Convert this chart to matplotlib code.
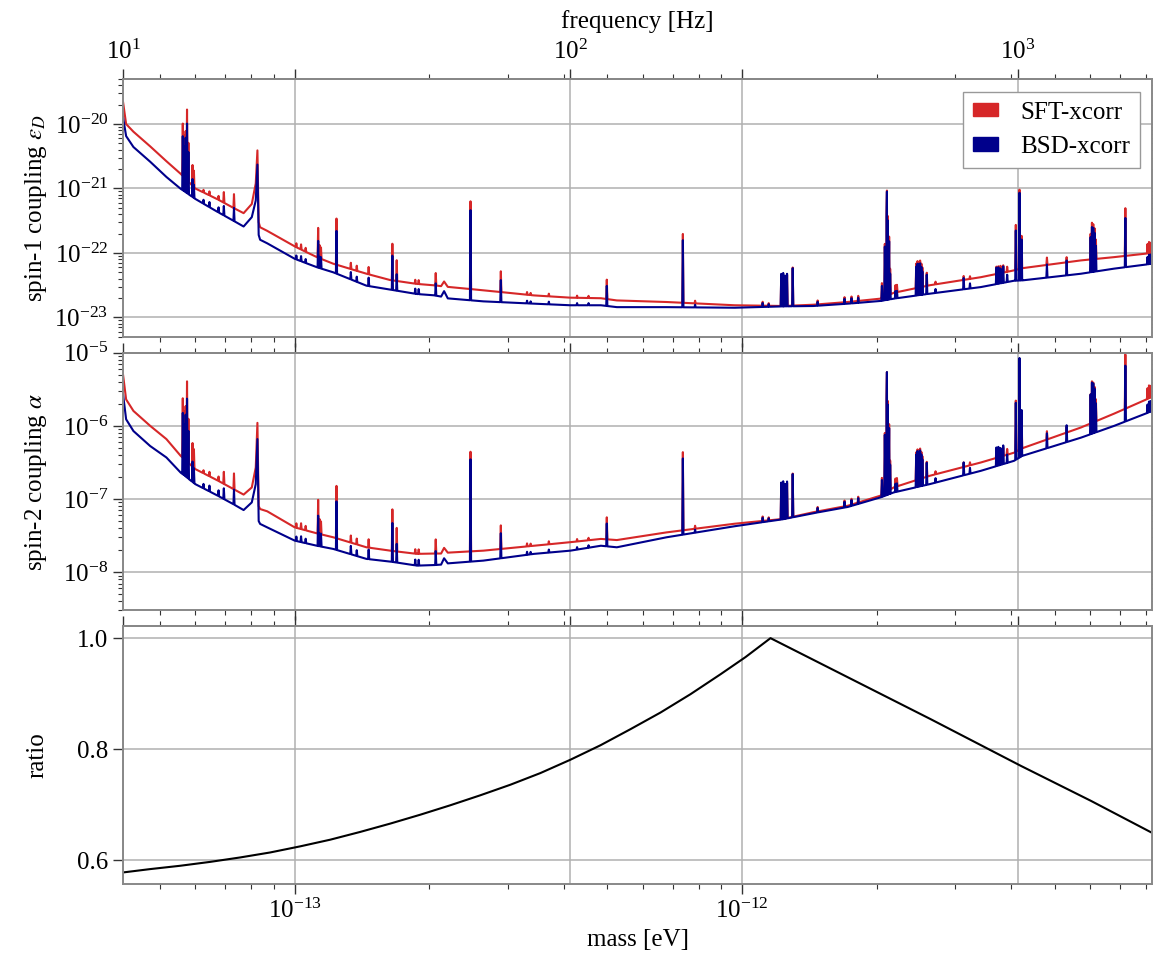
import numpy as np
import matplotlib
matplotlib.use('Agg')
import matplotlib.pyplot as plt
from matplotlib.patches import Patch
from matplotlib.ticker import MultipleLocator, NullLocator, NullFormatter

H_EV = 4.135667696e-15  # Planck constant in eV s

# smooth background of the upper limits, on one frequency grid [Hz]
base_freq = [10.0, 10.16, 10.55, 11.5, 12.5, 13.45, 14.5, 16.2, 17.65, 18.6,
             19.4, 19.8, 19.97, 20.1, 20.25, 21.0, 24.2, 27.1, 29.5, 35.0,
             39.5, 45.4, 49.5, 51.4, 52.2, 53.2, 63.9, 82.9, 100.0, 117.0,
             127.0, 164.0, 233.0, 299.0, 349.0, 417.0, 493.0, 528.0, 636.0, 827.0,
             981.0, 1025.0, 1384.0, 1642.0, 2000.0]

sft_spin1 = [2.2e-20, 1.0e-20, 7.6e-21, 4.5e-21, 2.65e-21, 1.69e-21, 1.0e-21, 6.9e-22, 5.0e-22, 4.14e-22,
             5.75e-22, 1.2e-21, 3.9e-21, 3.0e-22, 2.5e-22, 2.2e-22, 1.26e-22, 8.6e-23, 6.8e-23, 4.75e-23,
             3.8e-23, 3.3e-23, 3.15e-23, 3.05e-23, 3.6e-23, 2.97e-23, 2.63e-23, 2.19e-23, 2.02e-23, 1.98e-23,
             1.83e-23, 1.73e-23, 1.54e-23, 1.5e-23, 1.57e-23, 1.73e-23, 1.95e-23, 2.4e-23, 3.15e-23, 4.2e-23,
             5.35e-23, 5.8e-23, 7.65e-23, 8.6e-23, 1.0e-22]

bsd_spin1 = [1.27e-20, 6.5e-21, 4.4e-21, 2.6e-21, 1.51e-21, 9.9e-22, 6.9e-22, 4.4e-22, 3.16e-22, 2.57e-22,
             3.59e-22, 6.5e-22, 2.35e-21, 1.9e-22, 1.6e-22, 1.41e-22, 8.1e-23, 6.0e-23, 5.0e-23, 3.1e-23,
             2.7e-23, 2.3e-23, 2.2e-23, 2.1e-23, 2.55e-23, 1.97e-23, 1.77e-23, 1.63e-23, 1.54e-23, 1.54e-23,
             1.44e-23, 1.44e-23, 1.41e-23, 1.48e-23, 1.5e-23, 1.63e-23, 1.79e-23, 1.95e-23, 2.33e-23, 2.95e-23,
             3.7e-23, 3.75e-23, 4.75e-23, 5.7e-23, 6.8e-23]

sft_spin2 = [5.0e-6, 2.3e-6, 1.6e-6, 1.0e-6, 6.6e-7, 3.9e-7, 2.57e-7, 1.82e-7, 1.37e-7, 1.15e-7,
             1.44e-7, 2.7e-7, 1.1e-6, 8.0e-8, 7.3e-8, 6.8e-8, 4.1e-8, 3.4e-8, 3.0e-8, 2.19e-8,
             1.97e-8, 1.78e-8, 1.8e-8, 1.8e-8, 2.15e-8, 1.85e-8, 1.97e-8, 2.3e-8, 2.57e-8, 2.85e-8,
             2.75e-8, 3.5e-8, 4.6e-8, 5.35e-8, 6.6e-8, 8.1e-8, 1.11e-7, 1.44e-7, 2.08e-7, 3.16e-7,
             4.3e-7, 4.96e-7, 9.5e-7, 1.47e-6, 2.5e-6]

bsd_spin2 = [2.7e-6, 1.23e-6, 8.5e-7, 5.3e-7, 3.7e-7, 2.3e-7, 1.6e-7, 1.13e-7, 8.5e-8, 7.07e-8,
             9.0e-8, 1.6e-7, 6.6e-7, 5.0e-8, 4.57e-8, 4.1e-8, 2.7e-8, 2.3e-8, 2.08e-8, 1.52e-8,
             1.4e-8, 1.23e-8, 1.25e-8, 1.27e-8, 1.55e-8, 1.32e-8, 1.44e-8, 1.78e-8, 1.97e-8, 2.3e-8,
             2.19e-8, 3.0e-8, 4.25e-8, 5.3e-8, 6.4e-8, 7.8e-8, 1.05e-7, 1.23e-7, 1.6e-7, 2.43e-7,
             3.33e-7, 3.9e-7, 6.9e-7, 1.0e-6, 1.6e-6]

# narrow noise lines: frequency [Hz] and height above the background
line_freq = [13.6, 13.7, 13.8, 13.9, 14.0, 14.3, 14.4, 15.13, 15.6, 16.35,
             16.8, 17.7, 24.4, 25.0, 25.6, 27.3, 27.5, 27.7, 30.0, 32.3,
             33.3, 35.4, 40.0, 40.9, 45.0, 45.8, 50.0, 59.8, 69.9, 80.0,
             81.5, 89.5, 103.5, 109.8, 120.6, 178.4, 190.0, 269.0, 277.5, 296.0,
             299.0, 302.0, 305.0, 314.0, 357.0, 410.0, 425.0, 440.0, 497.0, 504.5,
             509.0, 510.0, 512.4, 515.8, 518.5, 533.0, 537.0, 593.0, 597.0, 601.0,
             605.0, 609.0, 612.0, 626.0, 655.0, 757.0, 782.0, 896.0, 905.0, 915.0,
             928.0, 947.0, 990.0, 1009.0, 1020.0, 1162.0, 1286.0, 1455.0, 1465.0, 1475.0,
             1485.0, 1495.0, 1740.0, 1950.0, 1965.0, 1980.0, 1995.0]

sft_gain = [6.5, 4.5, 5.5, 12.5, 4.0, 2.1, 1.8, 1.1, 1.15, 1.15,
            1.46, 1.65, 1.15, 1.2, 1.15, 2.9, 1.6, 1.5, 5.2, 1.25,
            1.2, 1.3, 3.7, 2.1, 1.15, 1.15, 1.56, 23.0, 2.1, 1.1,
            1.08, 1.1, 1.08, 1.08, 2.0, 11.7, 1.1, 1.15, 1.1, 3.0,
            3.0, 2.8, 3.0, 3.9, 1.15, 1.2, 1.2, 1.2, 1.7, 6.6,
            19.0, 43.0, 17.0, 8.0, 2.5, 1.3, 1.3, 2.4, 2.6, 2.5,
            2.6, 2.3, 2.0, 1.6, 1.1, 1.15, 1.1, 1.3, 1.3, 1.3,
            1.3, 1.2, 5.0, 17.0, 3.2, 1.3, 1.2, 2.5, 3.7, 3.5,
            3.0, 2.0, 5.5, 1.4, 1.5, 1.45, 1.3]

bsd_gain = [6.9, 5.0, 7.0, 12.0, 4.5, 1.9, 1.6, 1.15, 1.2, 1.2,
            1.4, 1.6, 1.15, 1.2, 1.15, 2.6, 1.5, 1.5, 4.6, 1.3,
            1.2, 1.35, 3.4, 1.8, 1.2, 1.2, 1.55, 25.0, 2.2, 1.1,
            1.08, 1.1, 1.08, 1.08, 2.05, 11.0, 1.1, 1.15, 1.1, 3.2,
            3.3, 3.0, 3.2, 3.9, 1.15, 1.2, 1.2, 1.2, 1.7, 6.8,
            19.0, 48.0, 17.0, 8.0, 2.5, 1.3, 1.3, 2.8, 3.1, 3.0,
            3.1, 2.7, 2.3, 2.0, 1.15, 1.5, 1.2, 1.8, 1.8, 1.7,
            1.8, 1.3, 6.0, 23.0, 4.3, 1.6, 1.7, 3.5, 5.0, 4.8,
            4.0, 2.5, 5.8, 1.3, 1.4, 1.4, 1.3]

# sensitivity ratio between the two pipelines
ratio_freq = [10.0, 11.49, 13.41, 15.65, 18.27, 21.33, 24.89, 29.05, 33.9, 39.57,
              46.18, 53.9, 62.91, 73.43, 85.7, 100.0, 116.7, 136.2, 159.0, 185.5,
              216.6, 246.4, 280.1, 423.0, 639.0, 1016.0, 1457.0, 2000.0]
ratio_val = [0.578, 0.584, 0.590, 0.597, 0.605, 0.614, 0.625, 0.637, 0.651, 0.666,
             0.682, 0.699, 0.717, 0.736, 0.757, 0.781, 0.807, 0.836, 0.866, 0.899,
             0.935, 0.966, 1.0, 0.927, 0.854, 0.770, 0.707, 0.649]

freq_grid = [10.0, 100.0, 1000.0]

RED = '#d62728'
BLUE = '#00008b'
GRID = '#b0b0b0'


def add_lines(freq, vals, gains, w=0.003):
    lf = np.log10(freq)
    lv = np.log10(vals)
    fs = list(freq)
    vs = list(vals)
    for f0, g in zip(line_freq, gains):
        for f, k in ((f0 * (1 - w), 1.0), (f0, g), (f0 * (1 + w), 1.0)):
            fs.append(f)
            vs.append(10 ** np.interp(np.log10(f), lf, lv) * k)
    order = np.argsort(fs)
    return np.array(fs)[order], np.array(vs)[order]


def to_freq(m):
    return m / H_EV


def to_mass(f):
    return f * H_EV


plt.rcParams['font.family'] = 'serif'
plt.rcParams['font.serif'] = ['Liberation Serif', 'DejaVu Serif']
plt.rcParams['mathtext.fontset'] = 'stix'
plt.rcParams['font.size'] = 18

fig, axes = plt.subplots(3, 1, sharex=True, figsize=(11.53, 9.6), dpi=100)
fig.subplots_adjust(left=0.1067, right=0.9995, top=0.9177, bottom=0.079, hspace=0.062)
ax1, ax2, ax3 = axes

for ax, sft, bsd in ((ax1, sft_spin1, bsd_spin1), (ax2, sft_spin2, bsd_spin2)):
    f, v = add_lines(base_freq, sft, sft_gain)
    ax.plot(to_mass(f), v, color=RED, lw=1.5)
    f, v = add_lines(base_freq, bsd, bsd_gain)
    ax.plot(to_mass(f), v, color=BLUE, lw=1.5)
    ax.set_yscale('log')

ax3.plot(to_mass(np.array(ratio_freq)), ratio_val, color='black', lw=1.5)

ax1.set_ylim(5e-24, 5e-20)
ax2.set_ylim(3e-9, 1e-5)
ax3.yaxis.set_major_locator(MultipleLocator(0.2))
ax3.set_xscale('log')
ax3.set_xlim(to_mass(base_freq[0]) * 0.9999, to_mass(base_freq[-1]))

ax1.set_ylabel(r'spin-1 coupling $\varepsilon_D$')
ax2.set_ylabel(r'spin-2 coupling $\alpha$')
ax3.set_ylabel('ratio')
ax3.set_xlabel('mass [eV]')

for i, ax in enumerate(axes):
    ax.tick_params(which='both', direction='out', top=True, right=True, color='#333333')
    ax.tick_params(which='major', length=7, width=1.0)
    ax.tick_params(which='minor', length=3.5, width=0.8)
    for s in ax.spines.values():
        s.set_color('#888888')
        s.set_linewidth(1.4)
    ax.grid(True, which='major', color=GRID, lw=1.1)
    ax.set_axisbelow(True)
    for fg in freq_grid:
        ax.axvline(to_mass(fg), color=GRID, lw=1.1, zorder=0.5)
    sec = ax.secondary_xaxis('top', functions=(to_freq, to_mass))
    sec.xaxis.set_minor_locator(NullLocator())
    sec.tick_params(which='major', direction='out', length=7, width=1.0, color='#333333')
    sec.spines['top'].set_color('#888888')
    sec.spines['top'].set_linewidth(1.4)
    if i == 0:
        sec.set_xlabel('frequency [Hz]', labelpad=9)
    else:
        sec.xaxis.set_major_formatter(NullFormatter())

handles = [Patch(color=RED, label='SFT-xcorr'), Patch(color=BLUE, label='BSD-xcorr')]
leg = ax1.legend(handles=handles, loc='upper right', fancybox=False,
                 handlelength=1.0, handleheight=0.45, handletextpad=0.9,
                 framealpha=1.0, edgecolor='#999999')

fig.align_ylabels(axes)
fig.savefig('out.png', dpi=100)
